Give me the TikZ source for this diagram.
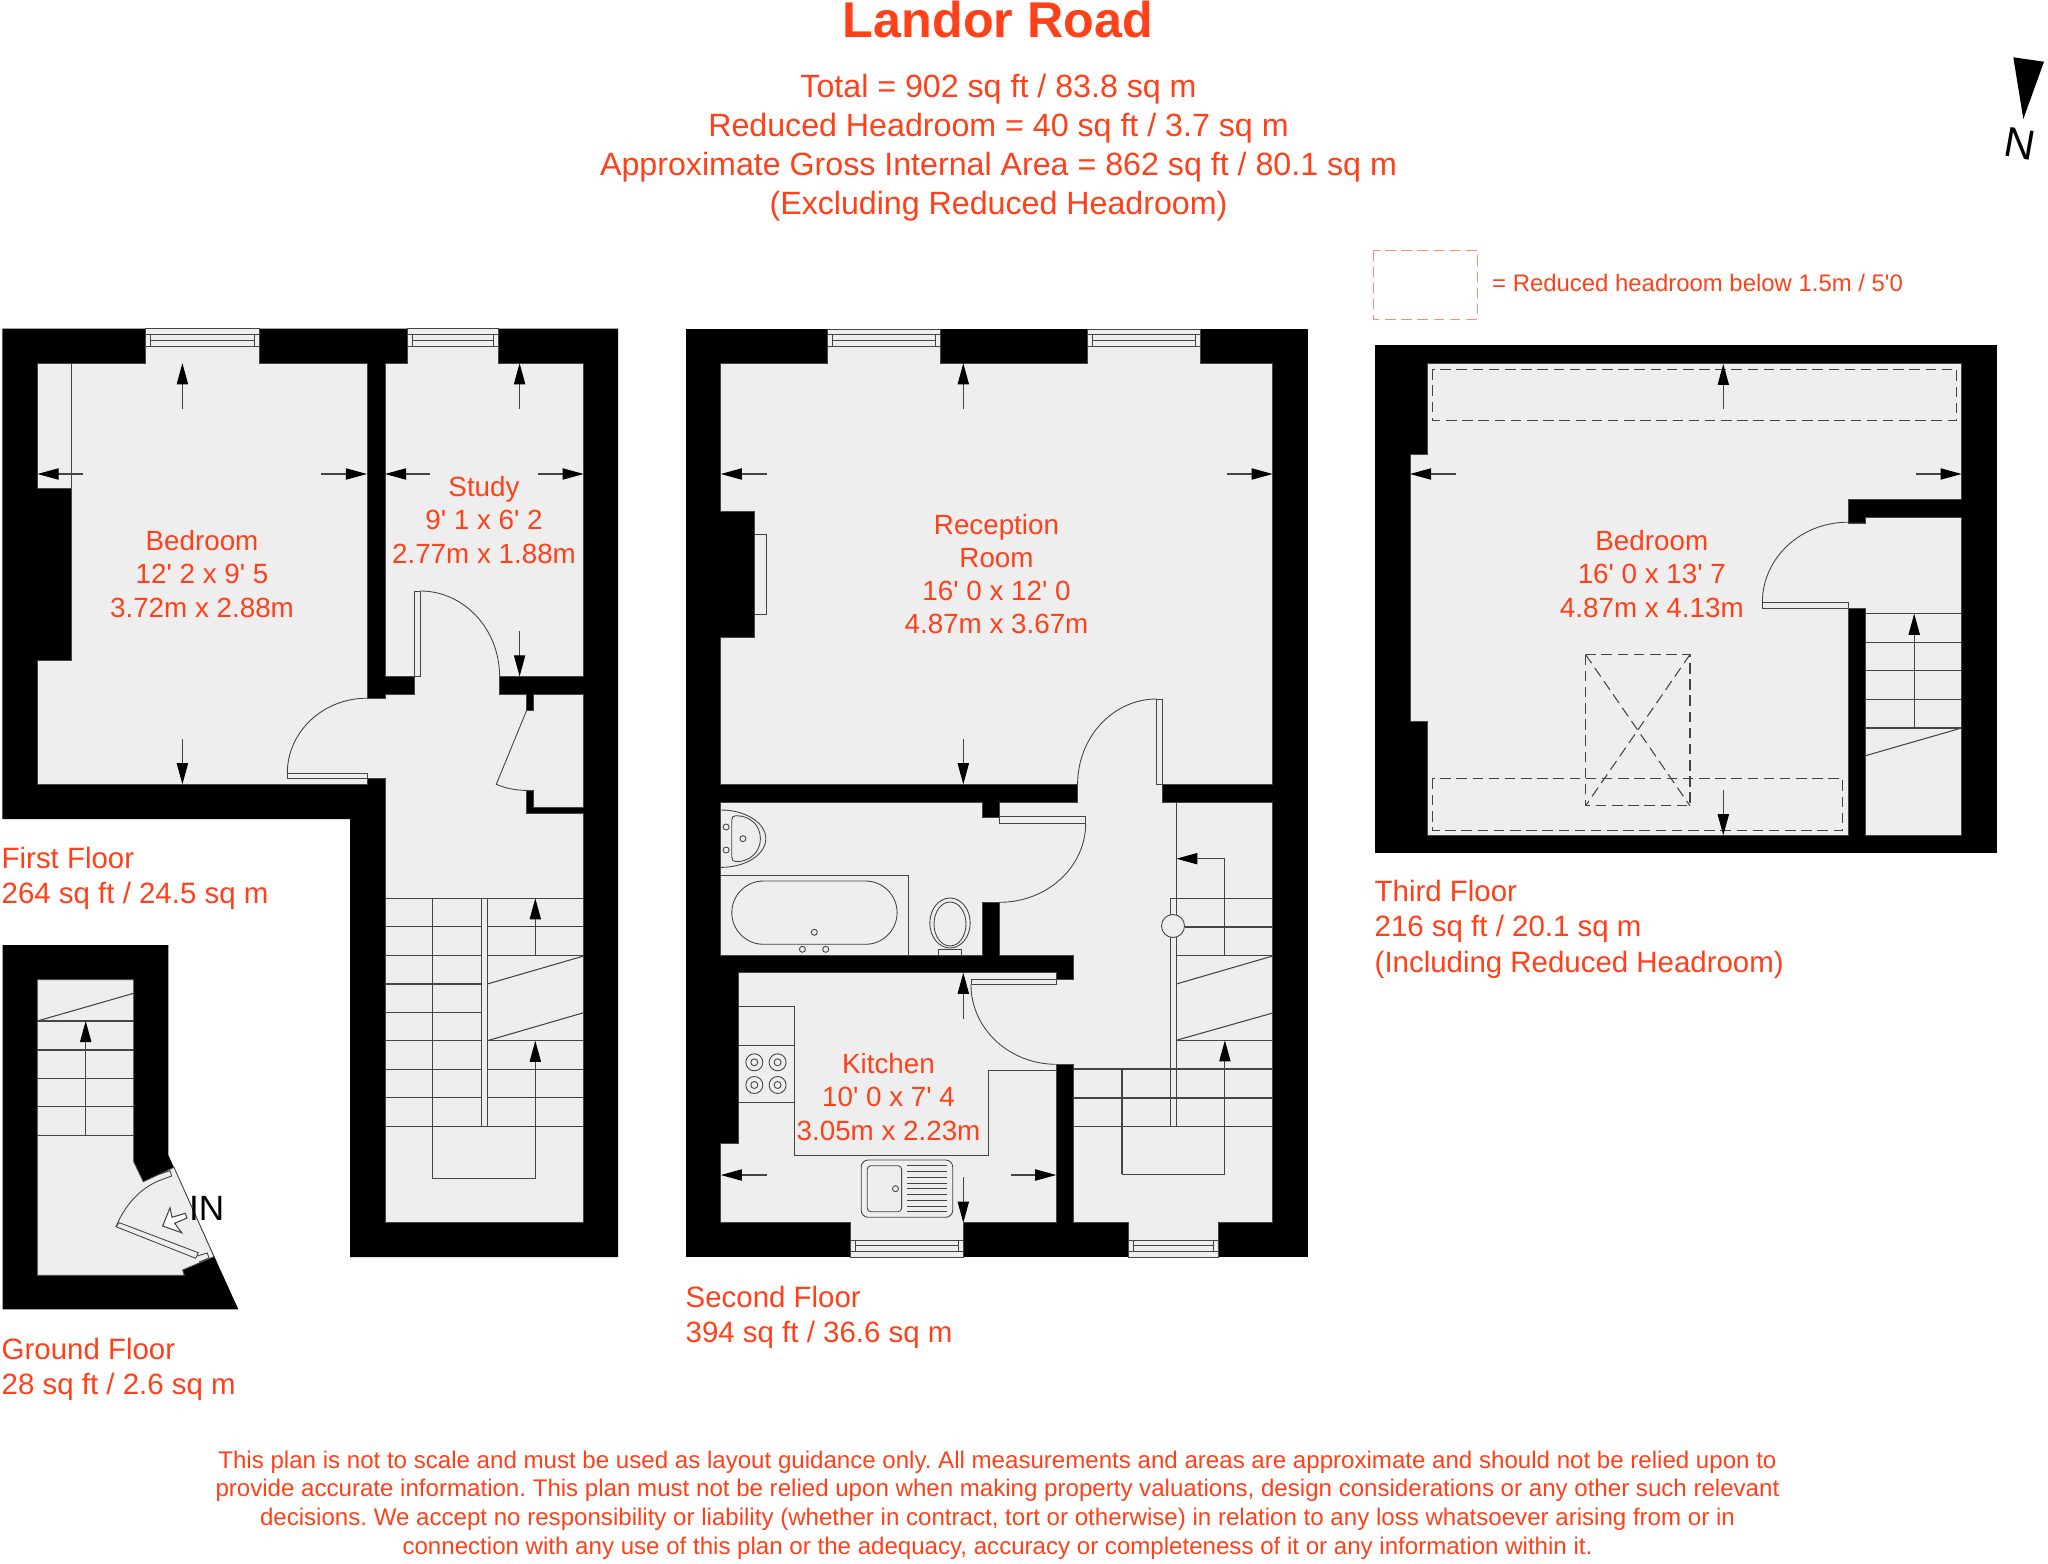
\documentclass[tikz,border=0pt]{standalone}
\usepackage{fontspec}
\setmainfont{Liberation Sans}[Ligatures=TeXOff]
\usetikzlibrary{arrows.meta}
\definecolor{planred}{HTML}{FF4019}
\definecolor{floorgrey}{HTML}{EEEEEE}
\definecolor{linegrey}{HTML}{444444}
\tikzset{
	>={Triangle[length=6pt,width=3.2pt,black]},
	floorarea/.style={fill=floorgrey,draw=linegrey,line width=0.25pt},
	thin line/.style={draw=linegrey,line width=0.25pt},
	tread/.style={draw=linegrey,line width=0.3pt},
	dim/.style={<-,draw=linegrey,line width=0.3pt},
	headroom/.style={draw=linegrey,line width=0.3pt,dash pattern=on 3pt off 1.6pt},
	roomlabel/.style={text=planred,font=\fontsize{7.9}{9.45}\selectfont,align=center},
	floorlabel/.style={text=planred,font=\fontsize{8.37}{10.2}\selectfont,align=left,anchor=north west,inner sep=0pt},
	headlabel/.style={text=planred,font=\fontsize{9.15}{11.1}\selectfont,align=center},
}
\begin{document}
\frenchspacing
\begin{tikzpicture}[x=0.01cm,y=-0.01cm]
\useasboundingbox (0,0) rectangle (2048,1564);
% headings
\node[text=planred,font=\bfseries\fontsize{14.3}{16}\selectfont] (title) at (998,20) {Landor Road};
\node[headlabel] (areas) at (998.5,147.5) {Total = 902 sq ft / 83.8 sq m\\Reduced Headroom = 40 sq ft / 3.7 sq m\\Approximate Gross Internal Area = 862 sq ft / 80.1 sq m\\(Excluding Reduced Headroom)};
% north point
\fill[black] (2013.3,57.3) -- (2044,61.7) -- (2023.3,119) -- cycle;
\node[font=\fontsize{12}{14}\selectfont,rotate=-10,inner sep=0pt] (north) at (2020.5,144) {N};
% legend
\draw[draw=planred!60,line width=0.3pt,dash pattern=on 3pt off 1.6pt] (1373.2,250.4) rectangle (1477.2,319.4);
\node[text=planred,font=\fontsize{6.8}{8}\selectfont,anchor=west,inner sep=0pt] (legend) at (1491.5,283) {= Reduced headroom below 1.5m / 5'0};

% first floor
\fill[black] (2.5,328.6) -- (618,328.6) -- (618,1257) -- (350,1257) -- (350,819) -- (2.5,819) -- cycle;
\path[floorarea] (37.5,363.2) -- (145.7,363.2) -- (145.7,328.6) -- (259,328.6) -- (259,363.2) -- (367,363.2) -- (367,698) -- (385,698) -- (385,694) -- (414.3,694) -- (414.3,676.4) -- (385,676.4) -- (385,363.2) -- (407,363.2) -- (407,328.6) -- (498,328.6) -- (498,363.2) -- (583.7,363.2) -- (583.7,676.4) -- (499.6,676.4) -- (499.6,694) -- (526.5,694) -- (526.5,710.7) -- (533,710.7) -- (533,694) -- (583.7,694) -- (583.7,807) -- (533,807) -- (533,790.4) -- (526.5,790.4) -- (526.5,813.3) -- (583.7,813.3) -- (583.7,1222.7) -- (385,1222.7) -- (385,778.6) -- (367,778.6) -- (367,784.3) -- (37.5,784.3) -- (37.5,660) -- (71.4,660) -- (71.4,488.2) -- (37.5,488.2) -- cycle;
% cupboard line, doors
\draw[thin line] (71.4,363.2) -- (71.4,488.2);
\draw[thin line,fill=floorgrey] (287.3,773.2) rectangle (367.5,778.6);
\draw[thin line] (287.3,784.3) -- (367,784.3);
\draw[thin line] (287.3,773.2) arc[start angle=180,end angle=90,x radius=79.7,y radius=-75];
\draw[thin line,fill=floorgrey] (414.3,591) rectangle (420.3,676.4);
\draw[thin line] (420.3,591) arc[start angle=90,end angle=0,x radius=79.3,y radius=-85.4];
\draw[thin line] (526.5,710.7) -- (496.3,784.3) .. controls (505,788) and (515,790.4) .. (526.5,790.4);
% stairs
\foreach \y in {898.3,926.7,955.3,984,1012.3,1040.7,1069.3,1097.7,1126.3}
  \draw[tread] (385,\y) -- (481.3,\y);
\foreach \y in {898.3,926.7,955.3,1040.7,1069.3,1097.7,1126.3}
  \draw[tread] (487.3,\y) -- (583.7,\y);
\draw[tread] (487.3,984) -- (583.7,956);
\draw[tread] (487.3,1040.7) -- (583.7,1012.7);
\draw[tread] (481.3,898.3) rectangle (487.3,1126.3);
\draw[tread] (432.7,898.3) -- (432.7,1178.7);
\draw[dim] (535.3,1040.7) -- (535.3,1178.7) -- (432.7,1178.7);
\draw[dim] (535.3,898.3) -- (535.3,955.3);
% dimension arrows
\foreach \xa/\ya/\xb/\yb in {182.4/363.2/182.4/409, 519.6/363.2/519.6/409, 37.5/474/83/474, 367/474/321/474, 385/474/430/474, 583.7/474/538/474, 182.4/784.3/182.4/739, 519.6/676.4/519.6/631}
  \draw[dim] (\xa,\ya) -- (\xb,\yb);
\node[roomlabel] (bedroomone) at (202,574) {Bedroom\\12' 2 x 9' 5\\3.72m x 2.88m};
\node[roomlabel] (study) at (484,520) {Study\\9' 1 x 6' 2\\2.77m x 1.88m};
\node[floorlabel] (firstfloor) at (1,846) {First Floor\\264 sq ft / 24.5 sq m};

% ground floor
\fill[black] (2.7,945) -- (168.3,945) -- (168.3,1155) -- (238.3,1309.3) -- (2.7,1309.3) -- cycle;
\path[floorarea] (37.3,979.7) -- (133.7,979.7) -- (133.7,1161.7) -- (143.3,1181.7) -- (174,1167.3) -- (214,1256.7) -- (182.7,1270) -- (184.3,1275.3) -- (37.3,1275.3) -- cycle;
\foreach \y in {1021,1050,1078.3,1106.7,1135.7}
  \draw[tread] (37.3,\y) -- (133.7,\y);
\draw[tread] (37.3,1021) -- (133.7,993.3);
\draw[dim] (85.7,1021) -- (85.7,1135.7);
\draw[thin line] (119.3,1222.7) -- (116,1226.7) -- (195.7,1258.3) -- (198.3,1252.7) -- cycle;
\draw[thin line] (197,1256) -- (207.3,1253) -- (209,1258) -- (199,1262);
\draw[thin line] (159.3,1174.3) -- (170,1170.7) -- (171.7,1176) -- (160.7,1180);
\draw[thin line] (160.7,1180) .. controls (140,1188) and (125,1205) .. (116,1226.7);
\draw[draw=linegrey,fill=white,line width=0.3pt] (162.7,1226) -- (170,1207.7) -- (172,1217.3) -- (185.3,1213.3) -- (187,1218) -- (174.7,1223.3) -- (181.7,1232.7) -- cycle;
\node[font=\fontsize{10}{12}\selectfont,inner sep=0pt] (entry) at (206.7,1208) {IN};
\node[floorlabel] (groundfloor) at (1,1337) {Ground Floor\\28 sq ft / 2.6 sq m};

% second floor
\fill[black] (686.1,329) rectangle (1307.7,1257.3);
\path[floorarea] (720.8,363.3) -- (827,363.3) -- (827,329) -- (940.4,329) -- (940.4,363.3) -- (1087.3,363.3) -- (1087.3,329) -- (1200.8,329) -- (1200.8,363.3) -- (1272.7,363.3) -- (1272.7,784.3) -- (1162.9,784.3) -- (1162.9,802) -- (1272.7,802) -- (1272.7,1222.7) -- (1218.8,1222.7) -- (1218.8,1257.3) -- (1128.2,1257.3) -- (1128.2,1222.7) -- (1073.9,1222.7) -- (1073.9,1064.3) -- (1056.3,1064.3) -- (1056.3,1222.7) -- (963.7,1222.7) -- (963.7,1257.3) -- (850.2,1257.3) -- (850.2,1222.7) -- (720.8,1222.7) -- (720.8,1143.3) -- (738,1143.3) -- (738,972.7) -- (1056.3,972.7) -- (1056.3,979.3) -- (1073.9,979.3) -- (1073.9,955) -- (999.6,955) -- (999.6,902.3) -- (982,902.3) -- (982,955) -- (720.8,955) -- (720.8,802) -- (982,802) -- (982,817.3) -- (999.6,817.3) -- (999.6,802) -- (1077.6,802) -- (1077.6,784.3) -- (720.8,784.3) -- (720.8,637) -- (754.7,637) -- (754.7,511) -- (720.8,511) -- cycle;
% windows, first and second floor
\foreach \xa/\xb/\ya/\yb in {145.7/259/334/346.4, 407/498/334/346.4, 827/940.4/334/346.4, 1087.3/1200.8/334/346.4, 850.2/963.7/1240/1251.3, 1128.2/1218.8/1240/1251.3}{
  \draw[thin line] (\xa,\ya) -- (\xb,\ya) (\xa,\yb) -- (\xb,\yb);
  \draw[thin line] (\xa+5,\ya) rectangle (\xb-5,\yb);
  \draw[thin line] (\xa+5,\ya/2+\yb/2) -- (\xb-5,\ya/2+\yb/2);
}
\draw[thin line] (754.7,534.3) rectangle (766.5,614.3);
% doors
\draw[thin line,fill=floorgrey] (1156.7,699) rectangle (1162.9,784.3);
\draw[thin line] (1156.7,699) arc[start angle=90,end angle=180,x radius=79.1,y radius=-85.3];
\draw[thin line,fill=floorgrey] (999.6,816.7) rectangle (1085.7,823.3);
\draw[thin line] (1085.7,823.3) arc[start angle=0,end angle=-90,x radius=86.1,y radius=-79];
\draw[thin line,fill=floorgrey] (971,979.3) rectangle (1056.3,984.7);
\draw[thin line] (971,984.7) arc[start angle=180,end angle=270,x radius=85.3,y radius=-79.6];
% bathroom
\draw[thin line] (720.8,810) arc[start angle=90,end angle=-90,x radius=45,y radius=-28.7];
\draw[thin line] (731.8,820) .. controls (731.8,817) and (733,815.7) .. (736,815.7) .. controls (750,815.7) and (760.4,825) .. (760.4,838.7) .. controls (760.4,852) and (750,861.7) .. (736,861.7) .. controls (733,861.7) and (731.8,860) .. (731.8,857) -- cycle;
\foreach \cx/\cy in {726.1/827, 726.1/850, 742.9/838.7, 814.3/932.3, 802.4/949.3, 825.7/949.3, 895.5/1188.7}
  \draw[thin line] (\cx,\cy) circle[radius=3];
\draw[thin line] (720.8,875.7) -- (908.6,875.7) -- (908.6,955);
\draw[thin line,rounded corners=9pt] (731.8,881) rectangle (897.1,944.3);
\draw[thin line] (950,923) ellipse[x radius=20.2,y radius=25];
\draw[thin line] (950,924) ellipse[x radius=16,y radius=22];
\draw[thin line,fill=floorgrey] (938.8,949.3) rectangle (961.6,955);
% kitchen units
\draw[thin line] (738,1006.7) -- (794.7,1006.7) -- (794.7,1155) -- (988.2,1155) -- (988.2,1070.3) -- (1056.3,1070.3);
\draw[thin line] (738,1045.7) -- (794.7,1045.7) (738,1102.7) -- (794.7,1102.7);
\foreach \cx in {754.3,777.6}
  \foreach \cy in {1062.3,1085}{
    \draw[thin line] (\cx,\cy) circle[radius=8.5];
    \draw[thin line] (\cx,\cy) circle[radius=3.5];
  }
\draw[thin line,rounded corners=2pt] (861.2,1160) rectangle (952.7,1217.3);
\draw[thin line,rounded corners=1pt] (867.3,1165.7) rectangle (901.6,1211.7);
\foreach \i in {0,...,8}
  \draw[thin line] (907,1165.7+5.75*\i) -- (947.3,1165.7+5.75*\i);
% stairs
\draw[tread] (1176.3,802) -- (1176.3,914.5);
\draw[tread] (1170.2,898.3) -- (1170.2,915);
\draw[tread] (1170.2,937) -- (1170.2,1126.7) (1176.3,937) -- (1176.3,1126.7);
\draw[thin line] (1173,926) circle[radius=11.5];
\draw[tread] (1170.2,898.3) -- (1272.7,898.3);
\draw[tread] (1184.5,927) -- (1272.7,927);
\draw[tread] (1176.3,955.3) -- (1272.7,955.3);
\draw[tread] (1176.3,984) -- (1272.7,956);
\draw[tread] (1176.3,1040.3) -- (1272.7,1013);
\draw[tread] (1176.3,1040.3) -- (1272.7,1040.3);
\foreach \y in {1069,1098,1126.7}
  \draw[tread] (1073.9,\y) -- (1272.7,\y);
\draw[tread] (1122,1069) -- (1122,1174.3);
\draw[dim] (1224.9,1040.3) -- (1224.9,1174.3) -- (1122,1174.3);
\draw[dim] (1176.3,858.7) -- (1224.9,858.7) -- (1224.9,955.3);
% dimension arrows
\foreach \xa/\ya/\xb/\yb in {963.3/363.3/963.3/409, 720.8/474/766.5/474, 1272.7/474/1227/474, 963.3/784.3/963.3/739, 963.3/972.7/963.3/1018.7, 963.3/1222.7/963.3/1177.3, 720.8/1175/766.5/1175, 1056.3/1175/1010.6/1175}
  \draw[dim] (\xa,\ya) -- (\xb,\yb);
\node[roomlabel] (reception) at (996.5,574) {Reception\\Room\\16' 0 x 12' 0\\4.87m x 3.67m};
\node[roomlabel] (kitchen) at (888.5,1097) {Kitchen\\10' 0 x 7' 4\\3.05m x 2.23m};
\node[floorlabel] (secondfloor) at (685,1285) {Second Floor\\394 sq ft / 36.6 sq m};

% third floor
\fill[black] (1375,345.5) rectangle (1996.7,853);
\path[floorarea] (1427.1,363.9) -- (1961.6,363.9) -- (1961.6,499.4) -- (1848,499.4) -- (1848,523) -- (1865.5,523) -- (1865.5,517.3) -- (1961.6,517.3) -- (1961.6,835.3) -- (1865.5,835.3) -- (1865.5,608) -- (1848,608) -- (1848,835.3) -- (1427.1,835.3) -- (1427.1,721.4) -- (1410,721.4) -- (1410,454.5) -- (1427.1,454.5) -- cycle;
\draw[thin line,fill=floorgrey] (1762.4,602.2) rectangle (1848,608);
\draw[thin line] (1762.4,602.2) arc[start angle=180,end angle=90,x radius=85.6,y radius=-80];
\foreach \y in {613.7,642.2,670.8,699.4,728}
  \draw[tread] (1865.5,\y) -- (1961.6,\y);
\draw[tread] (1865.5,755.7) -- (1961.6,728);
\draw[dim] (1914.2,613.7) -- (1914.2,728);
\draw[headroom] (1432.4,369.2) rectangle (1956.8,420.2);
\draw[headroom] (1432.4,778.6) rectangle (1842.7,830.4);
\draw[headroom] (1585.5,654.5) rectangle (1690,805.9);
\draw[headroom] (1585.5,654.5) -- (1690,805.9) (1690,654.5) -- (1585.5,805.9);
\foreach \xa/\ya/\xb/\yb in {1723.3/363.9/1723.3/408.8, 1723.3/835.3/1723.3/790, 1410/474/1455.7/474, 1961.6/474/1916.4/474}
  \draw[dim] (\xa,\ya) -- (\xb,\yb);
\node[roomlabel] (bedroomtwo) at (1651.8,574) {Bedroom\\16' 0 x 13' 7\\4.87m x 4.13m};
\node[floorlabel] (thirdfloor) at (1374,879) {Third Floor\\216 sq ft / 20.1 sq m\\(Including Reduced Headroom)};

% disclaimer
\node[text=planred,font=\fontsize{6.85}{8.15}\selectfont,align=center] (disclaimer) at (997.5,1505) {This plan is not to scale and must be used as layout guidance only. All measurements and areas are approximate and should not be relied upon to\\provide accurate information. This plan must not be relied upon when making property valuations, design considerations or any other such relevant\\decisions. We accept no responsibility or liability (whether in contract, tort or otherwise) in relation to any loss whatsoever arising from or in\\connection with any use of this plan or the adequacy, accuracy or completeness of it or any information within it.};
\end{tikzpicture}
\end{document}
